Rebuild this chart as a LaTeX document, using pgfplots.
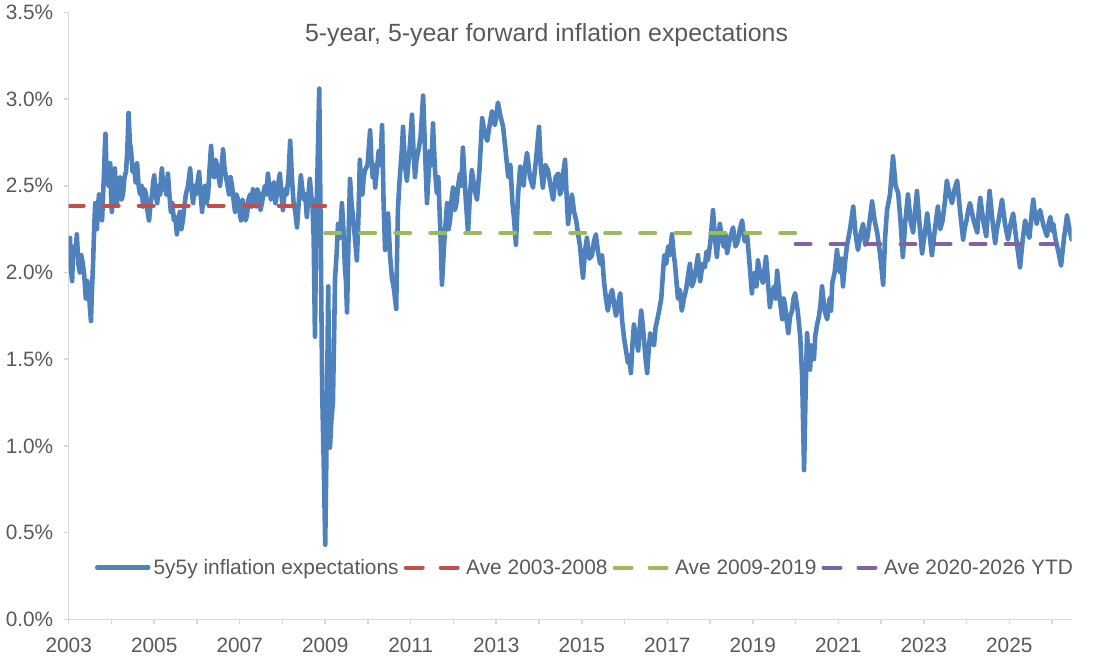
\documentclass[border=0pt]{standalone}
\usepackage{fontspec}
\setmainfont{Liberation Sans}
\usepackage{pgfplots}
\usepackage{pgfplotstable}
\pgfplotsset{compat=1.18}

\definecolor{serieblue}{HTML}{4F81BD}
\definecolor{avered}{HTML}{C0504D}
\definecolor{avegreen}{HTML}{9BBB59}
\definecolor{avepurple}{HTML}{8064A2}
\definecolor{axisgray}{HTML}{D9D9D9}
\definecolor{textgray}{HTML}{595959}

\pgfplotsset{
  legline/.style={legend image code/.code={\draw[##1] (2pt,0pt) -- (53pt,0pt);}},
  legdash/.style={legend image code/.code={\draw[##1] (2pt,0pt) -- (53pt,0pt); \path (0pt,0pt) -- (55.5pt,0pt);}},
  avg/.style={line width=4pt, line cap=round, dash pattern=on 15pt off 20pt, legdash},
}

% 5y5y forward breakeven inflation, per cent
\pgfplotstableread{
year value
2003.00 2.05
2003.015 2.12
2003.03 2.20
2003.055 2.02
2003.08 1.95
2003.10 2.10
2003.12 2.15
2003.155 2.10
2003.19 2.22
2003.225 2.05
2003.26 2.00
2003.295 2.10
2003.33 2.05
2003.365 1.98
2003.40 1.85
2003.435 1.95
2003.47 1.90
2003.495 1.80
2003.52 1.72
2003.545 1.90
2003.57 2.05
2003.595 2.25
2003.62 2.40
2003.64 2.28
2003.66 2.25
2003.685 2.38
2003.71 2.45
2003.745 2.32
2003.78 2.30
2003.805 2.45
2003.83 2.60
2003.845 2.72
2003.86 2.80
2003.88 2.62
2003.90 2.55
2003.935 2.50
2003.97 2.63
2003.99 2.45
2004.01 2.35
2004.045 2.50
2004.08 2.60
2004.105 2.45
2004.13 2.40
2004.165 2.52
2004.20 2.55
2004.235 2.42
2004.27 2.45
2004.305 2.55
2004.34 2.58
2004.37 2.70
2004.40 2.92
2004.43 2.75
2004.46 2.70
2004.495 2.58
2004.53 2.62
2004.565 2.52
2004.60 2.63
2004.635 2.50
2004.67 2.45
2004.705 2.50
2004.74 2.38
2004.775 2.48
2004.81 2.45
2004.845 2.35
2004.88 2.30
2004.915 2.40
2004.95 2.45
2004.975 2.52
2005.00 2.56
2005.035 2.45
2005.07 2.40
2005.105 2.50
2005.14 2.45
2005.16 2.55
2005.18 2.60
2005.215 2.48
2005.25 2.50
2005.285 2.45
2005.32 2.57
2005.355 2.45
2005.39 2.35
2005.425 2.40
2005.46 2.30
2005.495 2.32
2005.53 2.22
2005.565 2.30
2005.60 2.35
2005.635 2.25
2005.67 2.30
2005.705 2.38
2005.74 2.45
2005.79 2.50
2005.84 2.60
2005.875 2.48
2005.91 2.40
2005.945 2.50
2005.98 2.45
2006.015 2.52
2006.05 2.58
2006.085 2.45
2006.12 2.35
2006.155 2.45
2006.19 2.50
2006.225 2.40
2006.26 2.45
2006.295 2.60
2006.33 2.73
2006.365 2.60
2006.40 2.55
2006.435 2.65
2006.47 2.62
2006.505 2.55
2006.54 2.50
2006.575 2.60
2006.61 2.71
2006.645 2.60
2006.68 2.55
2006.715 2.50
2006.75 2.45
2006.785 2.55
2006.82 2.50
2006.855 2.42
2006.89 2.35
2006.925 2.45
2006.96 2.42
2006.995 2.35
2007.03 2.30
2007.065 2.42
2007.10 2.38
2007.135 2.30
2007.17 2.33
2007.205 2.42
2007.24 2.45
2007.275 2.38
2007.31 2.48
2007.345 2.42
2007.38 2.38
2007.415 2.48
2007.45 2.45
2007.485 2.36
2007.52 2.40
2007.555 2.46
2007.59 2.50
2007.625 2.45
2007.66 2.57
2007.695 2.48
2007.73 2.42
2007.765 2.48
2007.80 2.52
2007.835 2.40
2007.87 2.45
2007.905 2.52
2007.94 2.57
2007.975 2.45
2008.01 2.36
2008.055 2.48
2008.10 2.45
2008.14 2.55
2008.18 2.76
2008.22 2.55
2008.26 2.40
2008.30 2.35
2008.34 2.26
2008.385 2.42
2008.43 2.56
2008.465 2.48
2008.50 2.42
2008.535 2.45
2008.57 2.32
2008.605 2.44
2008.64 2.54
2008.67 2.45
2008.70 2.40
2008.73 2.20
2008.76 1.63
2008.79 2.30
2008.82 2.60
2008.86 3.06
2008.895 2.20
2008.93 1.30
2008.965 0.90
2009.00 0.43
2009.035 1.10
2009.07 1.92
2009.09 1.40
2009.11 0.99
2009.145 1.15
2009.18 1.25
2009.205 1.60
2009.23 1.97
2009.265 2.10
2009.30 2.28
2009.345 2.20
2009.39 2.40
2009.425 2.25
2009.46 2.03
2009.485 1.95
2009.51 1.77
2009.545 2.20
2009.58 2.54
2009.615 2.40
2009.65 2.32
2009.695 2.20
2009.74 2.07
2009.775 2.30
2009.81 2.65
2009.84 2.50
2009.87 2.45
2009.90 2.55
2009.93 2.59
2009.99 2.62
2010.05 2.82
2010.08 2.65
2010.11 2.55
2010.14 2.62
2010.17 2.49
2010.21 2.60
2010.25 2.70
2010.29 2.62
2010.33 2.85
2010.365 2.40
2010.40 2.13
2010.435 2.25
2010.47 2.34
2010.515 2.10
2010.56 1.97
2010.61 1.90
2010.66 1.79
2010.68 2.10
2010.70 2.36
2010.73 2.50
2010.76 2.60
2010.79 2.70
2010.82 2.84
2010.865 2.62
2010.91 2.53
2010.97 2.70
2011.03 2.91
2011.065 2.70
2011.10 2.55
2011.135 2.65
2011.17 2.69
2011.23 2.78
2011.29 3.02
2011.335 2.70
2011.38 2.40
2011.415 2.55
2011.45 2.70
2011.485 2.62
2011.52 2.86
2011.565 2.60
2011.61 2.46
2011.645 2.55
2011.68 2.32
2011.705 2.15
2011.73 1.93
2011.79 2.20
2011.85 2.40
2011.885 2.25
2011.92 2.30
2011.955 2.42
2011.99 2.49
2012.03 2.36
2012.07 2.40
2012.11 2.50
2012.15 2.57
2012.185 2.50
2012.22 2.72
2012.28 2.45
2012.34 2.23
2012.385 2.45
2012.43 2.59
2012.49 2.48
2012.55 2.42
2012.61 2.60
2012.67 2.89
2012.73 2.80
2012.79 2.76
2012.845 2.85
2012.90 2.93
2012.97 2.85
2013.04 2.98
2013.10 2.90
2013.16 2.84
2013.22 2.70
2013.28 2.55
2013.33 2.62
2013.38 2.40
2013.42 2.30
2013.46 2.16
2013.51 2.45
2013.56 2.61
2013.60 2.55
2013.64 2.50
2013.68 2.62
2013.72 2.69
2013.79 2.55
2013.86 2.49
2013.93 2.65
2014.00 2.84
2014.045 2.60
2014.09 2.49
2014.15 2.62
2014.21 2.59
2014.27 2.50
2014.33 2.42
2014.39 2.55
2014.45 2.57
2014.49 2.45
2014.53 2.48
2014.57 2.58
2014.61 2.65
2014.645 2.45
2014.68 2.28
2014.725 2.38
2014.77 2.45
2014.82 2.35
2014.87 2.30
2014.915 2.22
2014.96 2.15
2014.995 2.05
2015.03 1.97
2015.075 2.12
2015.12 2.20
2015.18 2.08
2015.24 2.10
2015.285 2.18
2015.33 2.22
2015.38 2.12
2015.43 2.05
2015.475 2.10
2015.52 1.95
2015.565 1.85
2015.61 1.78
2015.66 1.86
2015.71 1.90
2015.755 1.82
2015.80 1.75
2015.85 1.82
2015.90 1.88
2015.945 1.72
2015.99 1.62
2016.035 1.55
2016.08 1.48
2016.115 1.52
2016.15 1.42
2016.185 1.58
2016.22 1.70
2016.27 1.62
2016.32 1.55
2016.355 1.68
2016.39 1.78
2016.425 1.70
2016.46 1.60
2016.495 1.50
2016.53 1.42
2016.565 1.55
2016.60 1.65
2016.645 1.60
2016.69 1.58
2016.725 1.68
2016.76 1.72
2016.81 1.78
2016.86 1.85
2016.895 1.98
2016.93 2.10
2016.975 2.05
2017.02 2.15
2017.065 2.10
2017.11 2.22
2017.145 2.12
2017.18 2.05
2017.215 1.95
2017.25 1.85
2017.295 1.90
2017.34 1.78
2017.39 1.85
2017.44 1.90
2017.485 1.98
2017.53 2.05
2017.575 1.92
2017.62 1.95
2017.67 2.02
2017.72 2.10
2017.745 2.00
2017.77 1.95
2017.825 2.05
2017.88 2.03
2017.915 2.12
2017.95 2.07
2018.01 2.18
2018.07 2.36
2018.115 2.20
2018.16 2.09
2018.195 2.20
2018.23 2.28
2018.275 2.20
2018.32 2.15
2018.36 2.22
2018.40 2.11
2018.47 2.20
2018.54 2.26
2018.595 2.15
2018.65 2.18
2018.70 2.25
2018.75 2.30
2018.81 2.18
2018.87 2.21
2018.925 2.05
2018.98 1.88
2019.015 1.98
2019.05 2.00
2019.085 1.92
2019.12 2.07
2019.18 1.98
2019.24 1.94
2019.275 2.02
2019.31 2.09
2019.355 1.95
2019.40 1.80
2019.45 1.88
2019.50 1.92
2019.535 1.85
2019.57 2.01
2019.63 1.85
2019.69 1.73
2019.725 1.85
2019.76 1.80
2019.795 1.72
2019.83 1.65
2019.875 1.75
2019.92 1.78
2019.955 1.85
2019.99 1.88
2020.05 1.78
2020.11 1.63
2020.155 1.40
2020.20 0.86
2020.235 1.30
2020.27 1.65
2020.305 1.52
2020.34 1.44
2020.37 1.58
2020.40 1.55
2020.43 1.50
2020.46 1.63
2020.505 1.70
2020.55 1.75
2020.585 1.82
2020.62 1.92
2020.68 1.78
2020.74 1.73
2020.77 1.80
2020.80 1.85
2020.83 1.78
2020.86 1.94
2020.915 2.00
2020.97 2.13
2021.005 2.05
2021.04 2.00
2021.075 2.08
2021.11 1.92
2021.155 2.05
2021.20 2.15
2021.275 2.25
2021.35 2.38
2021.405 2.22
2021.46 2.13
2021.52 2.22
2021.58 2.28
2021.63 2.16
2021.68 2.20
2021.735 2.30
2021.79 2.41
2021.85 2.30
2021.91 2.23
2021.98 2.10
2022.05 1.93
2022.095 2.20
2022.14 2.36
2022.21 2.45
2022.28 2.67
2022.34 2.50
2022.40 2.46
2022.455 2.30
2022.51 2.09
2022.57 2.30
2022.63 2.45
2022.69 2.30
2022.75 2.23
2022.795 2.35
2022.84 2.47
2022.90 2.28
2022.96 2.11
2023.02 2.22
2023.08 2.34
2023.135 2.22
2023.19 2.10
2023.26 2.25
2023.33 2.38
2023.385 2.25
2023.44 2.30
2023.49 2.40
2023.54 2.53
2023.60 2.45
2023.66 2.40
2023.72 2.48
2023.78 2.53
2023.85 2.35
2023.92 2.19
2023.96 2.26
2024.00 2.30
2024.04 2.36
2024.08 2.40
2024.165 2.30
2024.25 2.23
2024.285 2.35
2024.32 2.43
2024.39 2.30
2024.46 2.21
2024.50 2.35
2024.54 2.47
2024.605 2.30
2024.67 2.17
2024.71 2.25
2024.75 2.30
2024.79 2.36
2024.83 2.42
2024.90 2.28
2024.97 2.19
2025.03 2.28
2025.09 2.34
2025.17 2.18
2025.25 2.03
2025.31 2.18
2025.37 2.30
2025.42 2.24
2025.47 2.20
2025.515 2.32
2025.56 2.42
2025.60 2.34
2025.64 2.28
2025.68 2.33
2025.72 2.36
2025.80 2.27
2025.88 2.21
2025.92 2.28
2025.96 2.32
2026.00 2.24
2026.03 2.28
2026.075 2.20
2026.12 2.15
2026.165 2.10
2026.21 2.04
2026.245 2.12
2026.28 2.20
2026.315 2.26
2026.35 2.33
2026.405 2.25
2026.46 2.19
}\fivefive

\begin{document}
\begin{tikzpicture}[x=1pt,y=1pt]
\path[use as bounding box] (0,0) rectangle (1095,669);
\begin{axis}[
  at={(68.7pt,49.7pt)}, anchor=south west,
  scale only axis, width=1003pt, height=606.9pt,
  xmin=2003, xmax=2026.46, ymin=0, ymax=3.5,
  axis x line*=bottom, axis y line*=left,
  axis line style={draw=axisgray, line width=1.5pt, -},
  xtick={2003,2005,...,2025},
  minor xtick={2004,2006,...,2026},
  ytick={0,0.5,...,3.5},
  tick align=outside,
  major tick length=5pt, minor tick length=5pt,
  tick style={draw=axisgray, line width=1.5pt},
  minor tick style={draw=axisgray, line width=1.5pt},
  /pgf/number format/assume math mode=true,
  xticklabel={\pgfmathprintnumber[1000 sep={},precision=0,fixed]{\tick}},
  yticklabel={\pgfmathprintnumber[fixed,fixed zerofill,precision=1]{\tick}\%},
  ticklabel style={font=\fontsize{20.8}{24}\selectfont, text=textgray},
  xticklabel style={yshift=-10pt},
  yticklabel style={xshift=-7pt},
  title={5-year, 5-year forward inflation expectations},
  title style={at={(0.4764,0.957)}, anchor=base, yshift=-9pt,
    font=\fontsize{24.9}{28}\selectfont, text=textgray},
  legend columns=-1,
  legend style={at={(0.026,0.0853)}, anchor=west, draw=none, fill=none,
    font=\fontsize{20.9}{24}\selectfont, text=textgray, inner sep=0pt,
    nodes={inner sep=1pt},
    /tikz/every odd column/.append style={column sep=2pt},
    /tikz/every even column/.append style={column sep=4pt}},
]
\addplot[serieblue, line width=4.6pt, line join=round, line cap=round, legline]
  table[x=year,y=value] {\fivefive};
\addlegendentry{5y5y inflation expectations}
\addplot[avered, avg] coordinates {(2003,2.385) (2009,2.385)};
\addlegendentry{Ave 2003-2008}
\addplot[avegreen, avg] coordinates {(2009,2.229) (2020,2.229)};
\addlegendentry{Ave 2009-2019}
\addplot[avepurple, avg] coordinates {(2020,2.163) (2026.46,2.163)};
\addlegendentry{Ave 2020-2026 YTD}
\end{axis}
\end{tikzpicture}
\end{document}
